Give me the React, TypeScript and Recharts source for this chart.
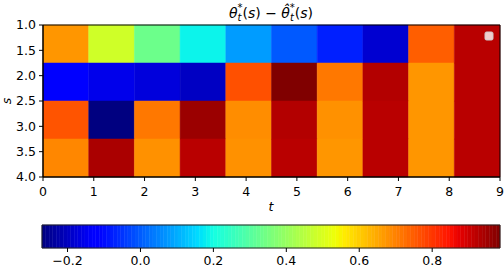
import React from 'react';
import { ComposedChart, XAxis, YAxis, ReferenceArea, Scatter } from 'recharts';

// cell edges along t (columns) and s (rows)
const tEdges = [0, 0.9, 1.8, 2.7, 3.6, 4.5, 5.4, 6.3, 7.2, 8.1, 9.0];
const sEdges = [1.0, 1.75, 2.5, 3.25, 4.0];

// theta* - theta_hat*, one list per row of s
const rowS1 = [0.673, 0.486, 0.334, 0.188, 0.079, -0.003, -0.075, -0.182, 0.748, 0.924];
const rowS2 = [-0.125, -0.154, -0.17, -0.197, 0.767, 0.986, 0.713, 0.93, 0.673, 0.924];
const rowS3 = [0.761, -0.27, 0.713, 0.956, 0.686, 0.93, 0.68, 0.924, 0.673, 0.924];
const rowS4 = [0.693, 0.94, 0.68, 0.924, 0.68, 0.924, 0.673, 0.924, 0.673, 0.924];
const rows = [rowS1, rowS2, rowS3, rowS4];

const tTicks = [0, 1, 2, 3, 4, 5, 6, 7, 8, 9];
const sTicks = [1.0, 1.5, 2.0, 2.5, 3.0, 3.5, 4.0];
const cbarTicks = [-0.2, 0.0, 0.2, 0.4, 0.6, 0.8];

const vmin = -0.27;
const vmax = 0.986;

// matplotlib 'jet' segment data
const seg = (x: number, pts: number[][]) => {
  for (let i = 1; i < pts.length; i++) {
    const [x0, y0] = pts[i - 1];
    const [x1, y1] = pts[i];
    if (x <= x1) return y0 + ((y1 - y0) * (x - x0)) / (x1 - x0);
  }
  return pts[pts.length - 1][1];
};
const R = [[0, 0], [0.35, 0], [0.66, 1], [0.89, 1], [1, 0.5]];
const G = [[0, 0], [0.125, 0], [0.375, 1], [0.64, 1], [0.91, 0], [1, 0]];
const B = [[0, 0.5], [0.11, 1], [0.34, 1], [0.65, 0], [1, 0]];
const jet = (v: number) => {
  const x = Math.min(1, Math.max(0, (v - vmin) / (vmax - vmin)));
  const c = (p: number[][]) => Math.round(seg(x, p) * 255);
  return `rgb(${c(R)},${c(G)},${c(B)})`;
};

const cells = rows.flatMap((row, j) =>
  row.map((v, i) => ({
    x1: tEdges[i],
    x2: tEdges[i + 1],
    y1: sEdges[j],
    y2: sEdges[j + 1],
    t: (tEdges[i] + tEdges[i + 1]) / 2,
    s: (sEdges[j] + sEdges[j + 1]) / 2,
    v,
  }))
);

const NBANDS = 128;
const bands = Array.from({ length: NBANDS }, (_, k) => {
  const a = vmin + ((vmax - vmin) * k) / NBANDS;
  const b = vmin + ((vmax - vmin) * (k + 1)) / NBANDS;
  return { a, b, v: (a + b) / 2, y: 0.5 };
});

const tickStyle = { fill: '#000', fontSize: 12.5 };
const fmt = (v: number) => (v < 0 ? '\u2212' : '') + Math.abs(v).toFixed(1);

export default function App() {
  return (
    <div
      style={{
        position: 'absolute',
        left: 0,
        top: 0,
        width: 504,
        height: 268,
        background: '#fff',
        fontFamily: 'DejaVu Sans',
      }}
    >
      <div style={{ position: 'absolute', left: 0, top: 0 }}>
        <ComposedChart width={504} height={215} data={cells} margin={{ top: 25, right: 4, left: 0, bottom: 0 }}>
          <XAxis
            type="number"
            dataKey="t"
            domain={[0, 9]}
            ticks={tTicks}
            height={38}
            tick={tickStyle}
            tickSize={4}
            tickMargin={6}
            axisLine={{ stroke: '#000' }}
            tickLine={{ stroke: '#000' }}
            allowDataOverflow
          />
          <YAxis
            type="number"
            dataKey="s"
            domain={[1, 4]}
            reversed
            ticks={sTicks}
            width={43}
            tick={tickStyle}
            tickSize={4}
            tickMargin={3}
            tickFormatter={(v: number) => v.toFixed(1)}
            axisLine={{ stroke: '#000' }}
            tickLine={{ stroke: '#000' }}
            allowDataOverflow
          />
          {cells.map((c, k) => (
            <ReferenceArea
              key={k}
              x1={c.x1}
              x2={c.x2}
              y1={c.y1}
              y2={c.y2}
              fill={jet(c.v)}
              fillOpacity={1}
              stroke={jet(c.v)}
              strokeWidth={0.5}
            />
          ))}
          <ReferenceArea x1={0} x2={9} y1={1} y2={4} fill="none" stroke="#000" strokeWidth={1} />
          <Scatter dataKey="s" shape={() => <g />} isAnimationActive={false} />
        </ComposedChart>
      </div>

      <div style={{ position: 'absolute', left: 0, top: 215 }}>
        <ComposedChart width={504} height={53} data={bands} margin={{ top: 10, right: 4, left: 42, bottom: 0 }}>
          <XAxis
            type="number"
            dataKey="v"
            domain={[vmin, vmax]}
            ticks={cbarTicks}
            height={20}
            tick={tickStyle}
            tickSize={4}
            tickMargin={4}
            tickFormatter={fmt}
            axisLine={false}
            tickLine={{ stroke: '#000' }}
            allowDataOverflow
          />
          <YAxis type="number" dataKey="y" domain={[0, 1]} width={0} hide allowDataOverflow />
          {bands.map((b, k) => (
            <ReferenceArea
              key={k}
              x1={b.a}
              x2={b.b}
              y1={0}
              y2={1}
              fill={jet(b.v)}
              fillOpacity={1}
              stroke={jet(b.v)}
              strokeWidth={0.5}
            />
          ))}
          <ReferenceArea x1={vmin} x2={vmax} y1={0} y2={1} fill="none" stroke="#222" strokeWidth={1} />
          <Scatter dataKey="y" shape={() => <g />} isAnimationActive={false} />
        </ComposedChart>
      </div>

      <svg
        width={504}
        height={268}
        style={{ position: 'absolute', left: 0, top: 0, pointerEvents: 'none' }}
        fontFamily="DejaVu Sans"
      >
        <text x={271} y={18} textAnchor="middle" fontSize={14} fill="#000">
          <tspan fontStyle="italic">θ</tspan>
          <tspan fontStyle="italic" fontSize={10} dy={3}>t</tspan>
          <tspan fontSize={10} dx={-4} dy={-10}>*</tspan>
          <tspan dy={7}>(</tspan>
          <tspan fontStyle="italic">s</tspan>
          <tspan>) − </tspan>
          <tspan fontStyle="italic">θ̂</tspan>
          <tspan fontStyle="italic" fontSize={10} dy={3}>t</tspan>
          <tspan fontSize={10} dx={-4} dy={-10}>*</tspan>
          <tspan dy={7}>(</tspan>
          <tspan fontStyle="italic">s</tspan>
          <tspan>)</tspan>
        </text>
        <text x={11} y={101} textAnchor="middle" fontSize={12.5} fontStyle="italic" transform="rotate(-90 11 101)" fill="#000">
          s
        </text>
        <text x={271} y={211} textAnchor="middle" fontSize={12.5} fontStyle="italic" fill="#000">
          t
        </text>
        <rect x={485} y={32} width={8} height={8} rx={1.5} fill="rgba(255,255,255,0.8)" stroke="#ccc" strokeWidth={1} />
      </svg>
    </div>
  );
}
